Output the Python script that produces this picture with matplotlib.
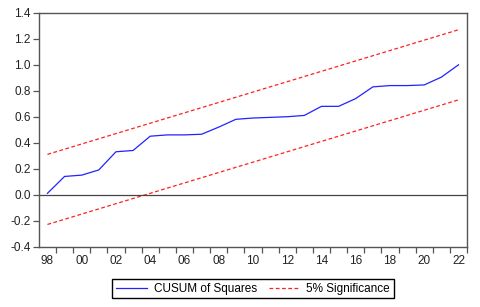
import matplotlib
matplotlib.use("Agg")
import matplotlib.pyplot as plt
import numpy as np

plt.rcParams['font.family'] = ['Liberation Sans', 'DejaVu Sans']

# data
years = list(range(1998, 2023))
cusum_sq = [0.01, 0.14, 0.15, 0.19, 0.33, 0.34, 0.45, 0.46, 0.46, 0.465,
            0.52, 0.58, 0.59, 0.595, 0.60, 0.61, 0.68, 0.68, 0.74, 0.83,
            0.84, 0.84, 0.845, 0.905, 1.00]
upper = [0.31, 0.35, 0.39, 0.43, 0.47, 0.51, 0.55, 0.59, 0.63, 0.67,
         0.71, 0.75, 0.79, 0.83, 0.87, 0.91, 0.95, 0.99, 1.03, 1.07,
         1.11, 1.15, 1.19, 1.23, 1.27]
lower = [-0.23, -0.19, -0.15, -0.11, -0.07, -0.03, 0.01, 0.05, 0.09, 0.13,
         0.17, 0.21, 0.25, 0.29, 0.33, 0.37, 0.41, 0.45, 0.49, 0.53,
         0.57, 0.61, 0.65, 0.69, 0.73]
label_years = list(range(1998, 2023, 2))
yticks = [-0.4, -0.2, 0.0, 0.2, 0.4, 0.6, 0.8, 1.0, 1.2, 1.4]

fig = plt.figure(figsize=(4.8, 3.07), dpi=100)
ax = fig.add_axes([0.081, 0.197, 0.892, 0.761])

ax.plot(years, cusum_sq, color='#2222ff', lw=0.9, label='CUSUM of Squares')
ax.plot(years, upper, color='#ff2020', lw=0.9, ls=(0, (3, 2)), label='5% Significance')
ax.plot(years, lower, color='#ff2020', lw=0.9, ls=(0, (3, 2)))
ax.axhline(0, color='#444444', lw=0.9)

ax.set_xlim(1997.5, 2022.5)
ax.set_ylim(-0.4, 1.4)
ax.set_yticks(yticks)
ax.set_yticklabels(['{:.1f}'.format(v) for v in yticks])
ax.set_xticks(label_years)
ax.set_xticklabels(['{:02d}'.format(y % 100) for y in label_years])
ax.set_xticks(np.arange(1998.5, 2023, 1.0), minor=True)

ax.tick_params(axis='x', which='major', length=0, pad=6, labelsize=8.5, labelcolor='#222222')
ax.tick_params(axis='x', which='minor', length=4, width=0.9, color='#555555')
ax.tick_params(axis='y', length=4, width=0.9, color='#555555', pad=2, labelsize=8.5, labelcolor='#222222')

for s in ax.spines.values():
    s.set_color('#555555')
    s.set_linewidth(1.0)

leg = fig.legend(loc='center', bbox_to_anchor=(0.527, 0.059), ncol=2, fontsize=8.5,
                 frameon=True, fancybox=False, edgecolor='black', framealpha=1,
                 handlelength=2.6, columnspacing=1.0, handletextpad=0.6,
                 borderpad=0.3)
leg.get_frame().set_linewidth(1.0)

fig.savefig('out.png', dpi=100)
